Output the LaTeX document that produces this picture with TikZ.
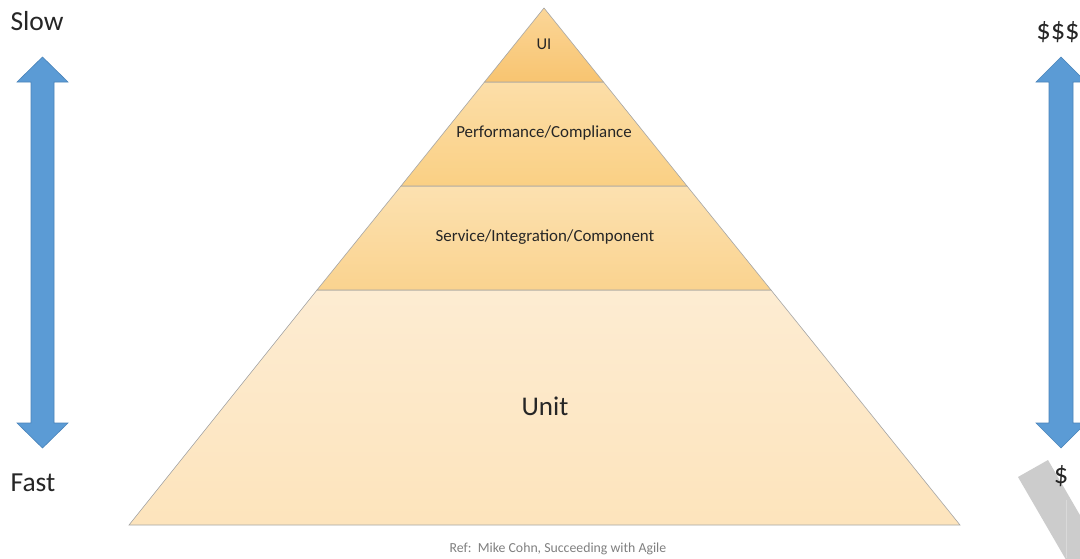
\documentclass[tikz,border=0pt]{standalone}
\usepackage{fontspec}
\setmainfont{Carlito}
\begin{document}
\begin{tikzpicture}[x=1pt,y=-1pt,
  layer/.style={draw=black!35,line width=0.6pt},
  lbl/.style={inner sep=0pt,text=black!85},
  bigarrow/.style={fill=arrowblue,draw=arrowedge,line width=0.6pt,line join=miter}]
\definecolor{arrowblue}{HTML}{5B9BD5}
\definecolor{arrowedge}{HTML}{4A84BA}
\useasboundingbox (0,0) rectangle (1080,558);
\fill[white] (0,0) rectangle (1080,558);
% grey bar at bottom right
\begin{scope}
\clip (0,0) rectangle (1080,558);
\fill[black!20] (1018,477) -- (1048,460) -- (1164,660) -- (1134,677) -- cycle;
\draw[black!15,line width=0.6pt] (1066,500) -- (1066,558);
\end{scope}
% pyramid layers
\shade[top color={rgb,255:red,253;green,236;blue,210},bottom color={rgb,255:red,253;green,228;blue,188}]
  (317,290) -- (771,290) -- (960,525) -- (129,525) -- cycle;
\draw[layer] (317,290) -- (771,290) -- (960,525) -- (129,525) -- cycle;
\shade[top color={rgb,255:red,252;green,225;blue,176},bottom color={rgb,255:red,250;green,211;blue,143}]
  (401,186) -- (687,186) -- (771,290) -- (317,290) -- cycle;
\draw[layer] (401,186) -- (687,186) -- (771,290) -- (317,290) -- cycle;
\shade[top color={rgb,255:red,252;green,222;blue,168},bottom color={rgb,255:red,250;green,208;blue,132}]
  (484.5,82) -- (603.5,82) -- (687,186) -- (401,186) -- cycle;
\draw[layer] (484.5,82) -- (603.5,82) -- (687,186) -- (401,186) -- cycle;
\shade[top color={rgb,255:red,251;green,214;blue,152},bottom color={rgb,255:red,248;green,196;blue,112}]
  (544,8) -- (603.5,82) -- (484.5,82) -- cycle;
\draw[layer] (544,8) -- (603.5,82) -- (484.5,82) -- cycle;
% layer labels
\node[lbl,font=\fontsize{16.5}{18}\selectfont] (ui) at (544,44) {UI};
\node[lbl,font=\fontsize{16.9}{19}\selectfont] (perf) at (544,133) {Performance/Compliance};
\node[lbl,font=\fontsize{16.9}{19}\selectfont] (svc) at (545,237) {Service/Integration/Component};
\node[lbl,font=\fontsize{27}{31}\selectfont] (unit) at (545,406) {Unit};
% arrows
\draw[bigarrow] (42.5,57) -- (68,82) -- (54,82) -- (54,423) -- (68,423) -- (42.5,448)
  -- (17,423) -- (31,423) -- (31,82) -- (17,82) -- cycle;
\draw[bigarrow] (1061,57) -- (1086,82) -- (1073,82) -- (1073,423) -- (1086,423) -- (1061,448)
  -- (1036,423) -- (1049,423) -- (1049,82) -- (1036,82) -- cycle;
% side labels
\node[lbl,font=\fontsize{27.5}{31}\selectfont] (slow) at (37,21) {Slow};
\node[lbl,font=\fontsize{27.5}{31}\selectfont] (fast) at (33,483) {Fast};
\node[lbl,font=\fontsize{28.5}{32}\selectfont] (dear) at (1058,32) {\$\$\$};
\node[lbl,font=\fontsize{28.5}{32}\selectfont] (cheap) at (1061,476) {\$};
\node[lbl,font=\fontsize{13.8}{16}\selectfont,text=black!50] (ref) at (558,549) {Ref:\ \ Mike Cohn, Succeeding with Agile};
\end{tikzpicture}
\end{document}
